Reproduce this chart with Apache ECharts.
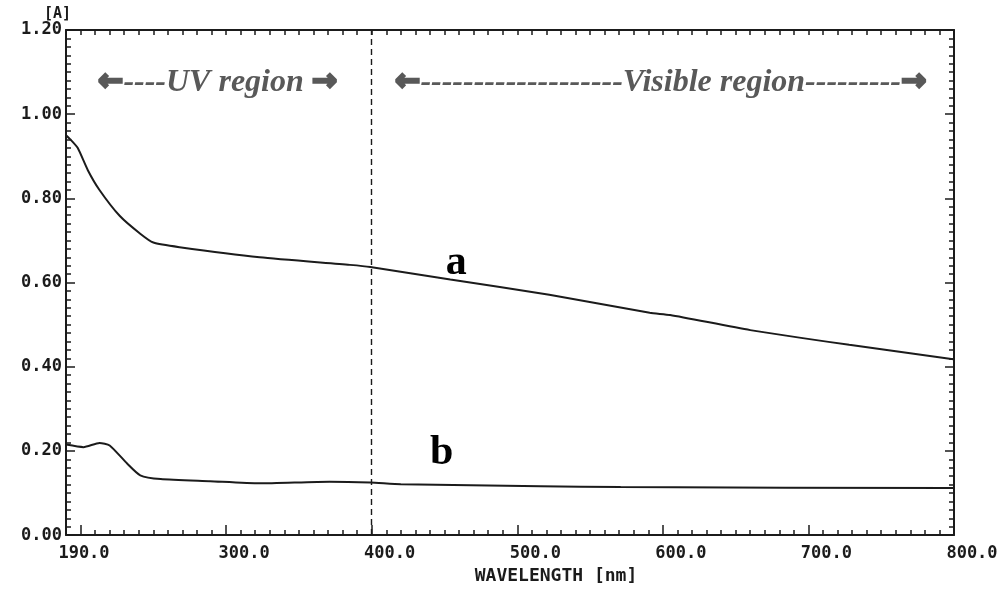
<!DOCTYPE html>
<html>
<head>
<meta charset="utf-8">
<style>
  html, body { margin: 0; padding: 0; background: #ffffff; }
  #chart { width: 1004px; height: 590px; }
</style>
<script src="https://cdn.jsdelivr.net/npm/echarts@6/dist/echarts.min.js"></script>
</head>
<body>
<div id="chart"></div>
<script>
// Absorbance spectra, wavelength in nm
const wavelengthA = [190, 193, 198, 205, 213, 227, 241, 250, 268, 323, 385, 399, 454, 522, 591, 605, 660, 728, 797, 800];
const absorbanceA = [0.95, 0.94, 0.92, 0.867, 0.82, 0.758, 0.716, 0.695, 0.684, 0.66, 0.642, 0.637, 0.607, 0.571, 0.528, 0.523, 0.487, 0.452, 0.419, 0.418];

const wavelengthB = [190, 202, 213, 220, 232, 241, 255, 289, 323, 371, 399, 420, 516, 571, 797, 800];
const absorbanceB = [0.215, 0.209, 0.219, 0.213, 0.17, 0.142, 0.133, 0.128, 0.123, 0.127, 0.125, 0.121, 0.116, 0.114, 0.112, 0.112];

const xTickLabels = [190, 300, 400, 500, 600, 700, 800];
const xMajorTicks = [200, 300, 400, 500, 600, 700];
const uvVisBoundary = 400;

const curveLabels = [
  { name: 'a', coord: [458, 0.647] },
  { name: 'b', coord: [448, 0.195] }
];

const ink = '#1b1b1b';
const noteGrey = '#595959';
const monoFont = '"DejaVu Sans Mono", "Liberation Mono", monospace';
const serifFont = '"Liberation Serif", "DejaVu Serif", serif';

const chart = echarts.init(document.getElementById('chart'), null, { renderer: 'canvas' });

const pair = (xs, ys) => xs.map((x, i) => [x, ys[i]]);

const baseX = {
  type: 'value', min: 190, max: 800, interval: 10,
  splitLine: { show: false },
  axisLine: { show: true, onZero: false, lineStyle: { color: ink, width: 2 } },
  axisTick: { show: true, inside: true, length: 5, lineStyle: { color: ink, width: 1.5 } },
  axisLabel: { show: false }
};
const baseY = {
  type: 'value', min: 0, max: 1.2, interval: 0.2,
  splitLine: { show: false },
  axisLine: { show: true, onZero: false, lineStyle: { color: ink, width: 2 } },
  axisTick: { show: true, inside: true, length: 9, lineStyle: { color: ink, width: 1.5 } },
  minorTick: { show: true, splitNumber: 10, length: 5, lineStyle: { color: ink, width: 1.5 } },
  axisLabel: { show: false }
};

// region notes: heavy arrows drawn as stroked glyphs
const noteRich = {
  arr: {
    fontFamily: '"DejaVu Sans", sans-serif', fontWeight: 'bold', fontSize: 30,
    fill: noteGrey, stroke: noteGrey, lineWidth: 2.5
  }
};

const option = {
  backgroundColor: '#ffffff',
  animation: false,
  grid: { left: 66, right: 50, top: 30, bottom: 44 },
  xAxis: [
    Object.assign({}, baseX, {
      position: 'bottom',
      name: 'WAVELENGTH [nm]',
      nameLocation: 'middle',
      nameGap: 29,
      nameTextStyle: { fontFamily: monoFont, fontWeight: 'bold', fontSize: 18, color: ink, padding: [0, 0, 0, 92] },
      axisLabel: {
        show: true,
        customValues: xTickLabels,
        formatter: v => v.toFixed(1),
        fontFamily: monoFont, fontWeight: 'bold', fontSize: 17, color: ink,
        margin: 10,
        padding: [0, 0, 0, 36]
      }
    }),
    Object.assign({}, baseX, {
      position: 'bottom',
      axisLine: { show: false },
      axisTick: { show: true, inside: true, length: 10, customValues: xMajorTicks, lineStyle: { color: ink, width: 1.5 } }
    }),
    Object.assign({}, baseX, { position: 'top' })
  ],
  yAxis: [
    Object.assign({}, baseY, {
      position: 'left',
      name: '[A]',
      nameLocation: 'end',
      nameGap: 6,
      nameTextStyle: { fontFamily: monoFont, fontWeight: 'bold', fontSize: 15, color: ink, align: 'right', verticalAlign: 'bottom', padding: [0, -5, 0, 0] },
      axisLabel: {
        show: true,
        formatter: v => v.toFixed(2),
        fontFamily: monoFont, fontWeight: 'bold', fontSize: 17, color: ink,
        margin: 4
      }
    }),
    Object.assign({}, baseY, { position: 'right' })
  ],
  graphic: [
    {
      type: 'text', left: 97, top: 66, silent: true,
      style: { text: '{arr|←}----UV region {arr|→}', font: 'italic bold 32px ' + serifFont, fill: noteGrey, rich: noteRich }
    },
    {
      type: 'text', left: 394, top: 66, silent: true,
      style: { text: '{arr|←}-------------------Visible region---------{arr|→}', font: 'italic bold 32px ' + serifFont, fill: noteGrey, rich: noteRich }
    }
  ],
  series: [
    {
      name: 'a', type: 'line', xAxisIndex: 0, yAxisIndex: 0,
      data: pair(wavelengthA, absorbanceA),
      smooth: 0.2, showSymbol: false, symbol: 'none',
      lineStyle: { color: ink, width: 2 },
      markPoint: {
        symbol: 'circle', symbolSize: 0,
        label: { show: true, formatter: p => p.name, fontFamily: serifFont, fontWeight: 'bold', fontSize: 42, color: '#000' },
        data: [{ name: curveLabels[0].name, coord: curveLabels[0].coord }]
      },
      markLine: {
        silent: true, symbol: ['none', 'none'],
        label: { show: false },
        lineStyle: { color: ink, type: [6, 4], width: 1.4 },
        data: [{ xAxis: uvVisBoundary }]
      }
    },
    {
      name: 'b', type: 'line', xAxisIndex: 0, yAxisIndex: 0,
      data: pair(wavelengthB, absorbanceB),
      smooth: 0.2, showSymbol: false, symbol: 'none',
      lineStyle: { color: ink, width: 2 },
      markPoint: {
        symbol: 'circle', symbolSize: 0,
        label: { show: true, formatter: p => p.name, fontFamily: serifFont, fontWeight: 'bold', fontSize: 42, color: '#000' },
        data: [{ name: curveLabels[1].name, coord: curveLabels[1].coord }]
      }
    }
  ]
};

chart.setOption(option);
</script>
</body>
</html>
